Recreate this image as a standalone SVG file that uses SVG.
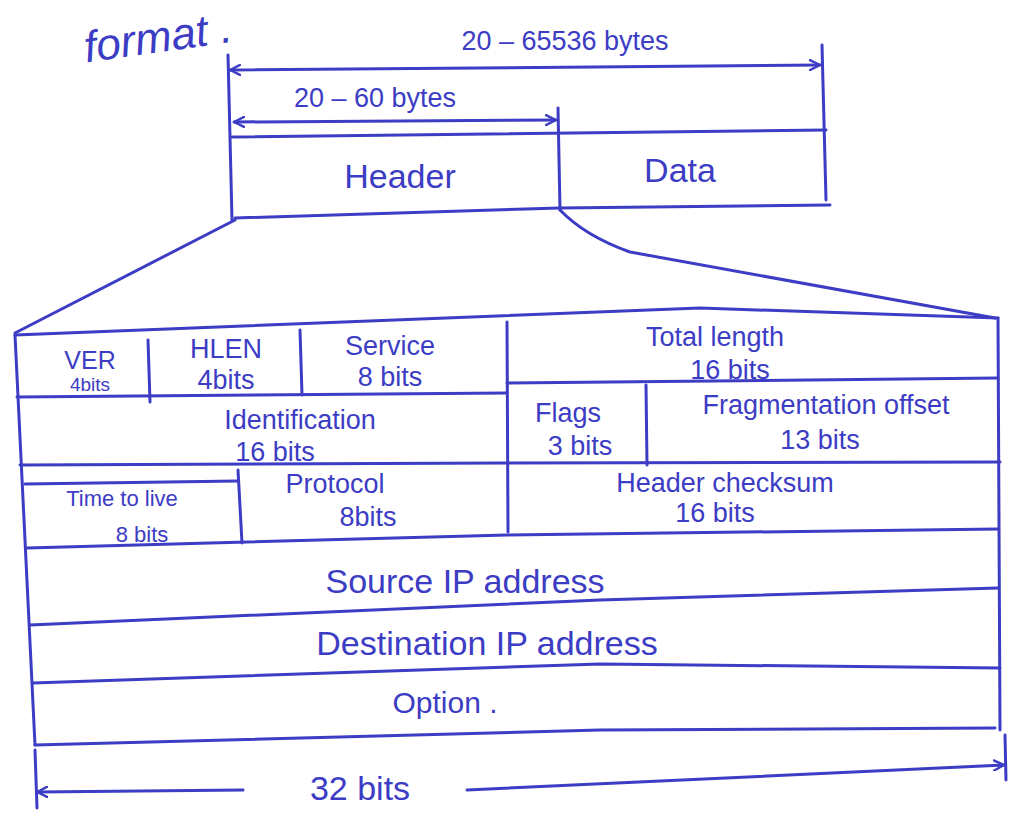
<svg xmlns="http://www.w3.org/2000/svg" width="1013" height="821" viewBox="0 0 1013 821">
<style>
.ln{fill:none;stroke:#3c3cc4;stroke-width:3;stroke-linecap:round;stroke-linejoin:round}
.t{font-family:"Liberation Sans","DejaVu Sans",sans-serif;fill:#3c3cc4;text-anchor:middle}
.big{font-size:34px}
.md{font-size:27px}
.sm{font-size:22px}
</style>
<defs>
<marker id="ah" viewBox="0 0 12 12" refX="11" refY="6" markerWidth="12" markerHeight="12" markerUnits="userSpaceOnUse" orient="auto-start-reverse">
<path d="M1,1 L11,6 L1,11" fill="none" stroke="#3c3cc4" stroke-width="2.4" stroke-linecap="round"/>
</marker>
</defs>
<rect width="1013" height="821" fill="#ffffff"/>

<text class="t" x="160" y="52" style="font-size:44px;font-style:italic" transform="rotate(-8 160 52)">format .</text>

<g id="connectors">
<!-- total size dimension -->
<path class="ln" d="M228,55 L232,220"/>
<path class="ln" d="M822,45 L826,200"/>
<path class="ln" d="M230,70 L820,65" marker-start="url(#ah)" marker-end="url(#ah)"/>
<!-- header size dimension -->
<path class="ln" d="M234,122 L556,120" marker-start="url(#ah)" marker-end="url(#ah)"/>
<!-- fan out -->
<path class="ln" d="M235,220 L15,333"/>
<path class="ln" d="M560,210 Q585,236 630,252 L995,318"/>
<!-- 32 bits dimension -->
<path class="ln" d="M35,750 L37,808"/>
<path class="ln" d="M1005,735 L1006,780"/>
<path class="ln" d="M37,792 L243,790" marker-start="url(#ah)"/>
<path class="ln" d="M467,790 L1004,765" marker-end="url(#ah)"/>
</g>

<g id="packet">
<path class="ln" d="M232,137 L826,130"/>
<path class="ln" d="M558,108 L560,210"/>
<path class="ln" d="M235,218 L560,208 L830,205"/>
<text class="t big" x="400" y="188">Header</text>
<text class="t big" x="680" y="182">Data</text>
</g>
<text class="t md" x="565" y="50">20 – 65536 bytes</text>
<text class="t md" x="375" y="107">20 – 60 bytes</text>

<g id="table-frame">
<path class="ln" d="M15,335 L700,308 L998,318"/>
<path class="ln" d="M15,335 L35,745"/>
<path class="ln" d="M998,318 L1000,730"/>
</g>

<g id="row1">
<path class="ln" d="M17,397 L507,393"/>
<path class="ln" d="M507,383 L998,378"/>
<path class="ln" d="M148,340 L150,402"/>
<path class="ln" d="M300,330 L302,395"/>
<path class="ln" d="M507,322 L508,532"/>
<g id="ver"><text class="t" x="90" y="369" style="font-size:25px">VER</text><text class="t" x="90" y="391" style="font-size:19px">4bits</text></g>
<g id="hlen"><text class="t md" x="226" y="358">HLEN</text><text class="t md" x="226" y="389">4bits</text></g>
<g id="service"><text class="t md" x="390" y="355">Service</text><text class="t md" x="390" y="386">8 bits</text></g>
<g id="total-length"><text class="t md" x="715" y="346">Total length</text><text class="t md" x="730" y="379">16 bits</text></g>
</g>

<g id="row2">
<path class="ln" d="M20,465 L505,463 L1000,462"/>
<path class="ln" d="M646,385 L647,465"/>
<g id="identification"><text class="t md" x="300" y="429">Identification</text><text class="t md" x="275" y="461">16 bits</text></g>
<g id="flags"><text class="t md" x="568" y="422">Flags</text><text class="t md" x="580" y="455">3 bits</text></g>
<g id="fragmentation-offset"><text class="t md" x="826" y="414">Fragmentation offset</text><text class="t md" x="820" y="449">13 bits</text></g>
</g>

<g id="row3">
<path class="ln" d="M25,484 L238,481"/>
<path class="ln" d="M238,470 L242,543"/>
<path class="ln" d="M27,548 L507,535 L998,529"/>
<g id="ttl"><text class="t sm" x="122" y="506">Time to live</text><text class="t sm" x="142" y="542">8 bits</text></g>
<g id="protocol"><text class="t md" x="335" y="493">Protocol</text><text class="t md" x="368" y="526">8bits</text></g>
<g id="header-checksum"><text class="t md" x="725" y="492">Header checksum</text><text class="t md" x="715" y="522">16 bits</text></g>
</g>

<g id="source-ip">
<path class="ln" d="M30,625 L600,600 L998,588"/>
<text class="t big" x="465" y="593">Source IP address</text>
</g>

<g id="destination-ip">
<path class="ln" d="M33,683 L600,664 L1000,668"/>
<text class="t big" x="487" y="655">Destination IP address</text>
</g>

<g id="option">
<path class="ln" d="M35,745 L600,730 L995,728"/>
<text class="t" x="445" y="713" style="font-size:30px">Option .</text>
</g>

<text class="t big" x="360" y="800">32 bits</text>
</svg>
